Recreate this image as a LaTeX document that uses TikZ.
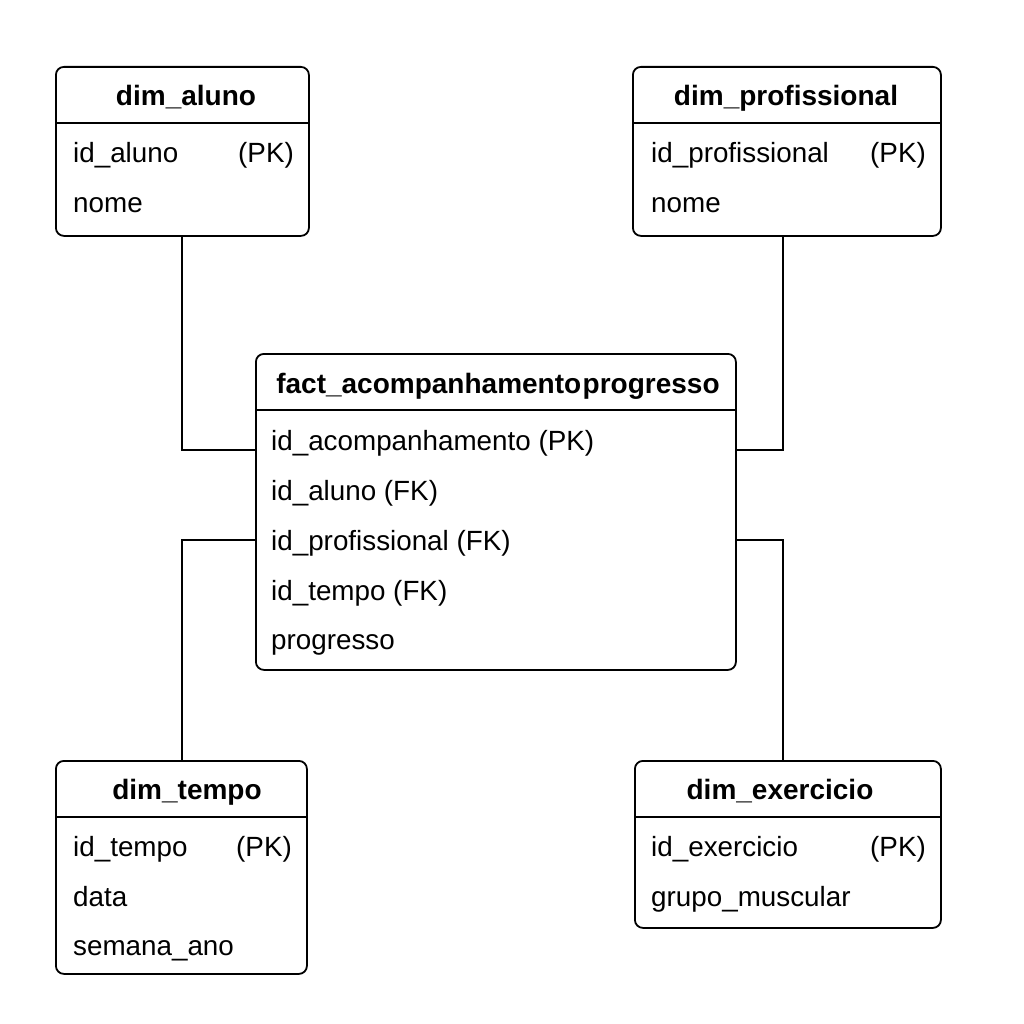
\documentclass[tikz,border=0pt]{standalone}
\usepackage{fontspec}
\setmainfont{Liberation Sans}
\begin{document}
\begin{tikzpicture}[x=1pt,y=-1pt,
  tbl/.style={draw=black, line width=1.8pt, rounded corners=8pt, fill=white, anchor=north west, inner sep=0pt},
  sep/.style={line width=1.6pt},
  conn/.style={draw=black, line width=1.6pt},
  ttl/.style={anchor=base, inner sep=0pt, font=\fontsize{28}{32}\selectfont\bfseries},
  fld/.style={anchor=base west, inner sep=0pt, font=\fontsize{27.8}{32}\selectfont},
  key/.style={anchor=base east, inner sep=0pt, font=\fontsize{27.8}{32}\selectfont}]
\useasboundingbox[fill=white] (0,0) rectangle (1024,1024);

% tables
\node[tbl, minimum width=253pt, minimum height=169pt] (aluno) at (55,66) {};
\node[tbl, minimum width=308pt, minimum height=169pt] (prof) at (632,66) {};
\node[tbl, minimum width=480pt, minimum height=316pt] (fact) at (255,353) {};
\node[tbl, minimum width=251pt, minimum height=213pt] (tempo) at (55,760) {};
\node[tbl, minimum width=306pt, minimum height=167pt] (exer) at (634,760) {};

% connector anchor points
\coordinate (aluno-c) at (182,235);
\coordinate (prof-c) at (783,235);
\coordinate (tempo-c) at (182,760);
\coordinate (exer-c) at (783,760);

% header separators
\draw[sep] (aluno.west |- 0,123) -- (aluno.east |- 0,123);
\draw[sep] (prof.west |- 0,123) -- (prof.east |- 0,123);
\draw[sep] (fact.west |- 0,410) -- (fact.east |- 0,410);
\draw[sep] (tempo.west |- 0,817) -- (tempo.east |- 0,817);
\draw[sep] (exer.west |- 0,817) -- (exer.east |- 0,817);

% dim_aluno
\node[ttl] (aluno-t) at (186,106) {dim\_aluno};
\node[fld] (aluno-f1) at (73,163) {id\_aluno};
\node[key] (aluno-k1) at (294,163) {(PK)};
\node[fld] (aluno-f2) at (73,213) {nome};

% dim_profissional
\node[ttl] (prof-t) at (786,106) {dim\_profissional};
\node[fld] (prof-f1) at (651,163) {id\_profissional};
\node[key] (prof-k1) at (926,163) {(PK)};
\node[fld] (prof-f2) at (651,213) {nome};

% fact
\node[ttl] (fact-t) at (498,393) {fact\_acompanhamento\hspace{1.5pt}progresso};
\node[fld] (fact-f1) at (271,450) {id\_acompanhamento (PK)};
\node[fld] (fact-f2) at (271,500) {id\_aluno (FK)};
\node[fld] (fact-f3) at (271,550) {id\_profissional (FK)};
\node[fld] (fact-f4) at (271,600) {id\_tempo (FK)};
\node[fld] (fact-f5) at (271,649) {progresso};

% dim_tempo
\node[ttl] (tempo-t) at (187,799) {dim\_tempo};
\node[fld] (tempo-f1) at (73,856) {id\_tempo};
\node[key] (tempo-k1) at (292,856) {(PK)};
\node[fld] (tempo-f2) at (73,906) {data};
\node[fld] (tempo-f3) at (73,955) {semana\_ano};

% dim_exercicio
\node[ttl] (exer-t) at (780,799) {dim\_exercicio};
\node[fld] (exer-f1) at (651,856) {id\_exercicio};
\node[key] (exer-k1) at (926,856) {(PK)};
\node[fld] (exer-f2) at (651,906) {grupo\_muscular};

% connectors
\draw[conn] (aluno-c) |- (fact.west |- 0,450);
\draw[conn] (prof-c) |- (fact.east |- 0,450);
\draw[conn] (tempo-c) |- (fact.west |- 0,540);
\draw[conn] (exer-c) |- (fact.east |- 0,540);
\end{tikzpicture}
\end{document}
